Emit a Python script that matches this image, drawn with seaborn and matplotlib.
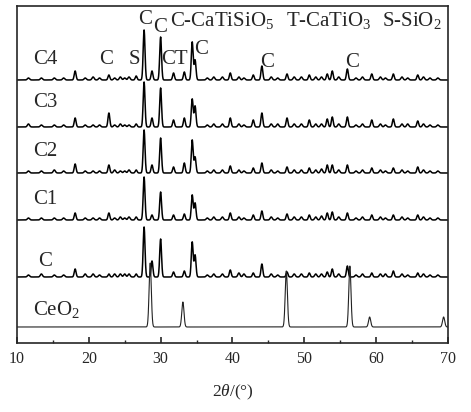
import numpy as np
import pandas as pd
import matplotlib
matplotlib.use("Agg")
import matplotlib.pyplot as plt
import seaborn as sns

# --- data (2theta in degrees, intensity in arbitrary units) ---
samples = ["C4", "C3", "C2", "C1", "C"]
peak_theta = [18.1, 22.8, 26.6, 27.7, 28.8, 30.0, 31.8, 33.3, 34.4, 34.8,
              39.7, 42.9, 44.1, 47.6, 50.7, 53.2, 53.9, 56.0, 59.4, 62.4, 65.8]
peak_C4 = [9, 5, 4, 50, 9, 43, 7, 8, 38, 20, 7, 5, 14, 6, 5, 6, 9, 11, 6, 6, 5]
peak_C3 = [9, 14, 3, 45, 9, 39, 7, 9, 28, 21, 9, 7, 14, 9, 7, 8, 10, 10, 7, 8, 6]
peak_C2 = [9, 8, 3, 43, 8, 35, 6, 10, 33, 16, 7, 5, 10, 6, 5, 8, 8, 8, 5, 5, 6]
peak_C1 = [7, 7, 3, 43, 5, 28, 5, 6, 25, 17, 7, 5, 9, 6, 5, 7, 8, 7, 5, 5, 5]
peak_C = [8, 3, 3, 50, 16, 38, 5, 6, 35, 22, 7, 4, 13, 5, 4, 5, 8, 11, 4, 6, 4]

minor_theta = [11.6, 13.4, 15.2, 16.5, 19.5, 20.6, 21.5, 23.6, 24.4, 25.0, 25.6,
               36.5, 37.4, 38.6, 40.9, 41.6, 45.4, 46.3, 48.6, 49.6, 51.6, 52.4,
               54.8, 57.2, 58.1, 60.6, 61.3, 63.6, 64.4, 66.6, 67.5, 68.6]
minor_C4 = [2, 2, 2, 2, 2, 3, 2, 2, 3, 2, 3, 2, 3, 3, 3, 2, 3, 2, 3, 3, 3, 3, 3, 2, 3, 3, 2, 3, 2, 3, 2, 2]
minor_C3 = [3, 2, 2, 2, 2, 2, 2, 2, 3, 2, 2, 2, 3, 3, 3, 2, 3, 3, 3, 3, 3, 3, 3, 2, 3, 3, 2, 3, 3, 3, 2, 2]
minor_C2 = [2, 2, 3, 2, 2, 2, 2, 3, 2, 2, 3, 2, 3, 3, 3, 2, 3, 2, 3, 3, 3, 4, 3, 2, 3, 3, 2, 3, 2, 3, 2, 2]
minor_C1 = [2, 2, 2, 2, 2, 2, 2, 2, 3, 2, 3, 2, 3, 3, 3, 2, 3, 2, 3, 3, 3, 4, 3, 2, 3, 3, 2, 3, 2, 3, 2, 2]
minor_C = [2, 3, 2, 2, 3, 3, 2, 3, 3, 3, 3, 2, 3, 3, 4, 3, 3, 2, 3, 3, 3, 3, 3, 2, 3, 3, 3, 3, 2, 3, 2, 2]

ceo2_theta = [28.55, 33.1, 47.5, 56.35, 59.1, 69.4]
ceo2_height = [64, 25, 56, 61, 10, 10]

offsets = {"C4": 263, "C3": 216, "C2": 170, "C1": 123, "C": 66, "CeO2": 16}

peaks = {"C4": peak_C4, "C3": peak_C3, "C2": peak_C2, "C1": peak_C1, "C": peak_C}
minors = {"C4": minor_C4, "C3": minor_C3, "C2": minor_C2, "C1": minor_C1, "C": minor_C}


def profile(x, centers, heights, fwhm):
    sig = fwhm / 2.3548
    y = np.zeros_like(x)
    for c, h in zip(centers, heights):
        y += h * np.exp(-0.5 * ((x - c) / sig) ** 2)
    return y


x = np.arange(10.0, 70.0, 0.02)
frames = []
for s in samples:
    y = profile(x, peak_theta, peaks[s], 0.3) + profile(x, minor_theta, minors[s], 0.35)
    frames.append(pd.DataFrame({"theta": x, "I": y + offsets[s], "sample": s}))
x_ce = np.arange(10.0, 70.3, 0.02)
y_ce = profile(x_ce, ceo2_theta, ceo2_height, 0.36)
frames.append(pd.DataFrame({"theta": x_ce, "I": y_ce + offsets["CeO2"], "sample": "CeO2"}))
df = pd.concat(frames, ignore_index=True)

sns.set_style("ticks")
plt.rcParams["font.family"] = ["Liberation Serif", "DejaVu Serif"]
plt.rcParams["mathtext.fontset"] = "custom"
plt.rcParams["mathtext.rm"] = "Liberation Serif"
plt.rcParams["mathtext.it"] = "Liberation Serif:italic"

fig = plt.figure(figsize=(4.71, 4.12), dpi=100)
ax = fig.add_axes([0.036, 0.1675, 0.915, 0.818])

sns.lineplot(data=df[df["sample"] != "CeO2"], x="theta", y="I", units="sample",
             estimator=None, sort=False, color="black", lw=1.1, ax=ax)
sns.lineplot(data=df[df["sample"] == "CeO2"], x="theta", y="I",
             estimator=None, sort=False, color="#222222", lw=0.8, ax=ax)

ax.set_xlim(10, 70)
ax.set_ylim(0, 337)
ax.set_yticks([])
ax.set_ylabel("")
ax.set_xticks(range(10, 71, 10))
ax.set_xticks(range(15, 70, 10), minor=True)
ax.tick_params(axis="x", which="major", direction="in", length=4, width=1.2,
               labelsize=11.5, pad=6)
ax.tick_params(axis="x", which="minor", direction="in", length=2.5, width=1.0)
for sp in ax.spines.values():
    sp.set_visible(True)
    sp.set_linewidth(1.2)
ax.set_xlabel(r"2$\it{\theta}$/(°)", fontsize=12.5, labelpad=11)

fs = 15
# sample names
ax.text(12.2, 283, "C4", fontsize=fs, va="center")
ax.text(12.2, 240, "C3", fontsize=fs, va="center")
ax.text(12.2, 191, "C2", fontsize=fs, va="center")
ax.text(12.2, 143, "C1", fontsize=fs, va="center")
ax.text(12.9, 81, "C", fontsize=fs, va="center")
ax.text(12.2, 33, r"CeO$_2$", fontsize=fs, va="center")

# phase marks
ax.text(22.4, 283, "C", fontsize=fs, ha="center", va="center")
ax.text(26.3, 283, "S", fontsize=fs, ha="center", va="center")
ax.text(27.8, 323, "C", fontsize=fs, ha="center", va="center")
ax.text(29.9, 315, "C", fontsize=fs, ha="center", va="center")
ax.text(31.9, 283, "CT", fontsize=fs, ha="center", va="center")
ax.text(35.6, 293, "C", fontsize=fs, ha="center", va="center")
ax.text(44.8, 280, "C", fontsize=fs, ha="center", va="center")
ax.text(56.7, 280, "C", fontsize=fs, ha="center", va="center")

# legend of phases
ax.text(31.3, 322, r"C-CaTiSiO$_5$", fontsize=15, va="center")
ax.text(47.45, 322, r"T-CaTiO$_3$", fontsize=15, va="center")
ax.text(60.8, 322, r"S-SiO$_2$", fontsize=15, va="center")

fig.savefig("out.png", dpi=100)
